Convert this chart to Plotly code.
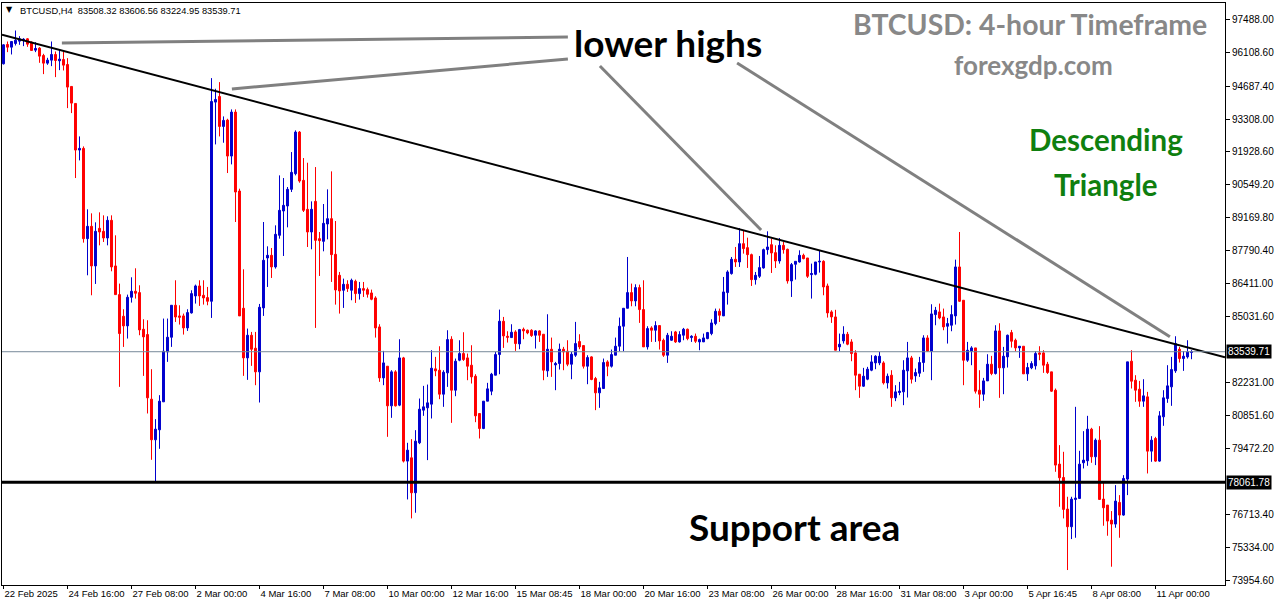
import plotly.graph_objects as go

# ---------------- data (BTCUSD H4 candles) ----------------
open_ = [95628,96439,96327,96481,96579,96607,96677,96537,96202,96286,
95978,95656,95782,96020,95754,95810,95600,94678,93964,92007,
92077,88287,88805,87141,88720,88595,88315,89056,87141,85938,
85029,84624,85826,86078,86022,84484,84261,81548,79842,80261,
81436,83533,84148,85491,85043,85043,84540,85169,85882,86302,
85910,85812,85658,94020,94258,92999,93265,91755,93601,90287,
85365,83281,84232,83687,82694,85379,87476,87588,87099,88427,
89448,89658,90357,91014,92762,90734,89518,88567,89853,88287,
88175,88902,89126,87630,86749,86120,86371,86120,86497,85980,
86190,86148,86008,85798,84582,82442,82932,81268,82694,81296,
83281,78947,79086,77618,79716,81086,81184,81338,82820,82764,
81757,82652,84064,81925,83183,83463,83281,82974,82512,80946,
80317,81464,81883,82554,83421,84819,84190,84134,84372,83868,
84484,84442,84442,84232,84414,84274,82736,83645,82987,83043,
83645,83561,83015,83393,83967,83799,82932,83323,82414,81813,
81995,83113,82932,83393,83771,84610,85365,86022,85673,86232,
85309,83743,84540,84442,84638,84022,83393,84022,84372,83952,
84232,84484,84134,84190,83952,83953,84092,84302,84721,85239,
85043,86022,86819,87420,87308,88077,87910,87616,86567,86707,
87057,87826,88035,87700,87350,88007,87840,86511,87211,87308,
87588,87476,86777,86791,87308,87336,86302,85211,85001,83743,
83995,84274,83952,83491,82596,82093,82386,82764,83071,83071,
83071,82232,82554,81604,81827,81855,82736,83281,82526,82638,
83085,84120,83561,85099,85211,85001,84610,84652,85043,87099,
85701,83183,83561,83701,81925,81757,82316,83015,82624,84414,
82862,83323,84344,84022,83701,83771,82610,82862,82946,83491,
83491,83015,82694,81925,78821,78261,76933,76192,77338,77380,
78877,78961,80289,79129,79828,77353,77101,76471,76304,77213,
76682,78192,83142,82345,81967,81464,81645,79366,79898,78947,
80806,81576,82065,82736,83645,83253,83323,83508.32]

high = [96450,96565,96565,97026,96789,96705,96705,96565,96537,96327,
96048,95880,96565,96146,96230,96146,95866,94678,93964,92580,
92160,89519,89350,88972,89392,89266,89225,89266,88427,86400,
85323,85938,86665,87043,86330,84903,84862,82806,80709,81716,
84932,84932,85491,86540,85490,85141,85323,86120,86358,86540,
86540,86260,95027,94580,94859,93419,93321,93713,93713,90385,
87001,84512,84372,84372,85546,88986,87965,87895,88846,90944,
90832,90455,91923,92832,92804,91671,91475,89853,91293,88567,
89741,90357,91112,89028,86889,86609,86540,86609,86567,86469,
86469,86232,86148,85868,84694,83575,82932,82764,82764,84064,
83323,79716,79870,80247,81575,82107,82162,83603,83323,83770,
82764,84442,84190,83253,84022,84358,83463,83813,82596,80946,
81464,82233,82652,83533,85309,85001,84400,84694,84442,84498,
84554,84470,84484,84442,84442,84274,85113,84134,83113,83882,
83743,84022,83533,84792,84274,83799,83393,83351,82484,82275,
83253,83183,83631,84134,84974,85365,87518,86400,86372,86358,
86539,84610,84610,84820,84638,84092,84330,84400,84414,84400,
84540,84512,84232,84302,84092,84302,84372,84903,85351,85351,
86679,86959,87518,87938,88735,88637,88329,87658,86889,87560,
87868,88595,88287,88007,88315,88147,87868,87266,87336,87798,
87658,87476,87238,87308,87798,87378,86400,85281,85300,84302,
84610,84372,84064,83603,82596,82862,82904,83393,83393,83533,
83141,82624,82764,82135,82274,83183,83952,83365,82834,83323,
84232,84232,85533,85421,85561,85351,84959,85491,87406,88567,
85701,83952,83771,83701,82764,82442,83435,83365,84652,84735,
83743,84260,84456,84092,83771,83771,83071,83141,83561,83771,
83603,83113,82694,81995,79618,79338,77450,77450,81226,79380,
80205,80848,80345,79898,80415,78080,77101,76849,77940,77520,
78359,83114,83603,82554,82316,82386,81855,79995,79967,81044,
81925,82974,83323,84190,83743,83561,84022,83606.56]

low = [95600,96118,96020,96397,96425,96370,96341,96188,96118,95670,
95195,95586,95530,95069,95362,95348,93768,93559,90832,91573,
88120,86749,85910,86386,88007,88148,88007,86917,85938,82065,
83742,84093,85603,85771,84233,82526,80947,79002,78107,79464,
81436,83113,83743,84790,84680,84260,84414,85141,85561,85463,
85519,85491,84959,92244,92580,92314,91042,91405,88986,85043,
82527,82359,82946,82135,81408,85043,86260,86637,87029,88287,
87560,88762,90245,90944,90636,89406,87937,87840,84540,86721,
87756,88259,86470,85518,85141,85379,86050,85701,85589,85729,
85840,85812,85701,84134,82275,82135,79967,80764,81240,81254,
78891,77338,76542,76779,79660,80848,78989,80736,82512,81547,
81226,82065,80554,81673,83141,83155,82345,82205,80582,79897,
80289,81464,81715,82554,82596,83701,83925,84134,83575,83645,
84064,84274,84162,83673,83952,82344,82484,82484,81925,82792,
82764,82932,82386,83323,83645,82834,82177,82344,81086,81184,
81995,82512,82876,83393,83561,83561,85365,85449,85449,84750,
83743,83631,83952,83952,83631,83323,83071,83994,83910,83924,
84022,84022,83952,83910,83603,83953,84064,84232,84652,84791,
85043,85519,86777,87099,87099,87658,87057,86302,86358,86637,
87029,87616,86847,87057,87238,87658,86400,85840,86568,87280,
87420,86637,85771,86749,86861,85910,84973,84750,83603,83561,
83883,83813,83141,81925,81603,82065,82344,82722,82806,82974,
82163,81995,81226,81464,81715,81296,81617,82205,82274,82484,
82694,83533,82344,84652,84903,84442,83883,84400,84680,85631,
82135,83113,82974,81785,81184,81478,82316,82554,82582,81603,
81757,82876,83715,83561,83281,82610,82316,82806,82792,83183,
82652,82610,81855,78499,77031,76541,74374,75674,75730,77380,
78639,78751,78877,78779,77338,76234,75814,74514,76150,75730,
76654,77520,81995,81436,81226,81226,78429,78918,78918,78918,
80429,81394,81268,82652,83086,82736,83253,83224.95]

close = [96425,96327,96565,96621,96677,96663,96453,96188,96272,95950,
95656,95782,96020,95768,95824,95572,94650,93978,92007,92077,
88287,88805,87141,88595,88567,88315,89056,87099,85938,84303,
84624,85826,86078,85994,84456,84163,81604,79842,80289,81464,
83561,84148,85491,84998,84987,84540,85183,85980,86302,85882,
85798,85658,94048,94132,92999,93251,91755,93601,90245,85043,
83281,84232,83645,82694,85407,87378,87588,87099,88469,89476,
89686,90357,91070,92762,90706,89476,88567,89518,88217,88203,
88930,89126,87616,86134,86092,86371,86190,86539,85980,86190,
86120,85952,85742,84540,82442,83071,81268,82694,81268,83281,
78947,79408,77618,79786,81128,81226,81394,82848,82736,81757,
82680,84050,81925,83141,83463,83211,82932,82484,80848,80317,
81464,81981,82596,83421,84819,84204,84148,84358,83882,84470,
84414,84330,84218,84414,84232,82764,83645,83113,83043,83645,
83533,83015,83435,83883,83743,82932,83295,82373,81813,82023,
83085,82932,83421,83771,84610,85365,86022,85673,86232,85309,
83743,84512,84442,84638,83994,83393,84232,84190,83952,84260,
84484,84092,84190,83980,84050,84120,84345,84749,85239,85071,
86050,86889,87420,87308,88077,87868,87616,86567,86749,87071,
87826,87938,87686,87350,88007,87826,86511,87197,87336,87588,
87448,86707,86819,87308,87336,86260,85169,85001,83603,83855,
84274,83855,83463,82554,82093,82512,82806,83113,83351,83351,
82232,82512,81604,81855,81883,82764,83281,82386,82666,83085,
84120,83561,85127,85281,84959,84582,84722,85099,87099,85659,
83183,83603,83701,81883,81757,82316,83015,82624,84414,82862,
83351,84232,83980,83701,83771,82610,82876,83043,83463,83435,
82974,82666,81883,78779,78247,76919,76192,77352,77394,78820,
78989,80289,79129,79828,77338,76989,76430,76304,77269,76682,
78220,83114,82302,81925,81464,81687,79366,79828,78947,80848,
81604,82107,82792,83883,83253,83351,83533,83539.71]

# time axis labels (one every 16 four-hour bars)
x_tick_labels = ["22 Feb 2025", "24 Feb 16:00", "27 Feb 08:00", "2 Mar 00:00",
                 "4 Mar 16:00", "7 Mar 08:00", "10 Mar 00:00", "12 Mar 16:00",
                 "15 Mar 08:45", "18 Mar 00:00", "20 Mar 16:00", "23 Mar 08:00",
                 "26 Mar 00:00", "28 Mar 16:00", "31 Mar 08:00", "3 Apr 00:00",
                 "5 Apr 16:45", "8 Apr 08:00", "11 Apr 00:00"]
bars_per_label = 16

y_tick_values = [97488.00, 96108.60, 94687.40, 93308.00, 91928.60, 90549.20,
                 89169.80, 87790.40, 86411.00, 85031.60, 82231.00, 80851.60,
                 79472.20, 76713.40, 75334.00, 73954.60]

current_price = 83539.71
support_price = 78061.78

# drawn analysis lines: (bar index, price)
trend_x = [-0.375, 305.375]
trend_y = [96846, 83305]
pointer_lines = [  # x0, y0, x1, y1
    (14.6, 96501, 141.1, 96753),
    (57.1, 94570, 141.1, 95830),
    (149.1, 95536, 189.4, 88650),
    (183.4, 95662, 291.6, 84170),
]

# ---------------- figure ----------------
n = len(close)
x_idx = list(range(n))

fig = go.Figure()
fig.add_trace(go.Candlestick(
    x=x_idx, open=open_, high=high, low=low, close=close,
    increasing=dict(line=dict(color="#0000CD", width=1), fillcolor="#0000CD"),
    decreasing=dict(line=dict(color="#FF0000", width=1), fillcolor="#FF0000"),
    whiskerwidth=0, showlegend=False, hoverinfo="skip",
))

# trend line
fig.add_trace(go.Scatter(x=trend_x, y=trend_y, mode="lines",
                         line=dict(color="black", width=2), showlegend=False,
                         hoverinfo="skip"))
# pointer lines
for (a, b, c, d) in pointer_lines:
    fig.add_trace(go.Scatter(x=[a, c], y=[b, d], mode="lines",
                             line=dict(color="#808080", width=3),
                             showlegend=False, hoverinfo="skip"))

# horizontal lines
fig.add_shape(type="line", xref="paper", x0=0, x1=1, yref="y",
              y0=current_price, y1=current_price,
              line=dict(color="#778899", width=1))
fig.add_shape(type="line", xref="paper", x0=0, x1=1, yref="y",
              y0=support_price, y1=support_price,
              line=dict(color="black", width=3))

tick_pos = [i * bars_per_label for i in range(len(x_tick_labels))]

axis_family = "Liberation Sans, Arial, sans-serif"
fig.update_layout(
    width=1276, height=604,
    margin=dict(l=2, r=51, t=3, b=19),
    paper_bgcolor="white", plot_bgcolor="white",
    xaxis=dict(range=[-0.375, 305.375], tickmode="array", tickvals=tick_pos,
               ticktext=x_tick_labels, ticks="outside", ticklen=3,
               tickcolor="black", showgrid=False, zeroline=False,
               showline=True, linecolor="black", linewidth=1, mirror=True,
               rangeslider=dict(visible=False), automargin=False, tickangle=0,
               tickfont=dict(family=axis_family, size=9.5, color="black"),
               ticklabelposition="outside right"),
    yaxis=dict(range=[73746, 98181], side="right", tickmode="array",
               tickvals=y_tick_values, ticktext=[f"{v:.2f}" for v in y_tick_values],
               ticks="outside", ticklen=4, tickcolor="black", showgrid=False,
               zeroline=False, showline=True, linecolor="black", linewidth=1,
               mirror=True, automargin=False,
               tickfont=dict(family=axis_family, size=10, color="black")),
    boxgap=0.3, boxgroupgap=0.3,
)

def ann(text, x, y, size, color, xanchor="center", bold=True, family="Lato, sans-serif"):
    fig.add_annotation(text=(f"<b>{text}</b>" if bold else text), xref="paper", yref="paper",
                       x=x, y=y, xanchor=xanchor, yanchor="middle", showarrow=False,
                       font=dict(family=family, size=size, color=color))

ann("lower highs", 0.5446, 0.9313, 37, "black")
ann("BTCUSD: 4-hour Timeframe", 0.8406, 0.9639, 28.4, "#888888")
ann("forexgdp.com", 0.8438, 0.8935, 26, "#888888")
ann("Descending", 0.9027, 0.7663, 29.5, "#0f7f0f")
ann("Triangle", 0.9027, 0.6873, 29.5, "#0f7f0f")
ann("Support area", 0.6476, 0.0997, 37, "black")
ann("BTCUSD,H4  83508.32 83606.56 83224.95 83539.71", 0.0131, 0.9863, 9.3, "black",
    xanchor="left", bold=False, family=axis_family)
ann("▼", 0.0065, 0.988, 8, "black", bold=False, family="DejaVu Sans")

# price labels on the right axis
for val in (current_price, support_price):
    fig.add_annotation(text=f"{val:.2f}", xref="paper", yref="y", x=1.0, y=val,
                       xanchor="left", yanchor="middle", showarrow=False,
                       bgcolor="black", font=dict(family=axis_family, size=10, color="white"),
                       borderpad=1, xshift=1)

fig.write_html("out.html", config={"displayModeBar": False},
               post_script="document.body.style.margin='0px';")
